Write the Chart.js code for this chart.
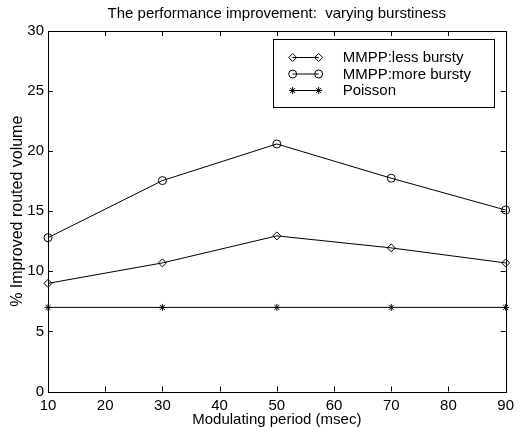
<!DOCTYPE html>
<html>
<head>
<meta charset="utf-8">
<script src="https://cdn.jsdelivr.net/npm/chart.js@4.4.1/dist/chart.umd.min.js"></script>
<style>
    html, body { margin: 0; padding: 0; background: #fff; }
    #wrap { width: 519px; height: 427px; }
</style>
</head>
<body>
<div id="wrap"><canvas id="perfChart"></canvas></div>
<script>
// Chart data
const periods = [10, 30, 50, 70, 90];
const lessBursty = [9.0, 10.7, 12.95, 11.95, 10.7];
const moreBursty = [12.8, 17.55, 20.6, 17.75, 15.1];
const poisson = [7, 7, 7, 7, 7];
const seriesLabels = ['MMPP:less bursty', 'MMPP:more bursty', 'Poisson'];
const markerStyles = ['rectRot', 'circle', 'star'];

const FONT = 'Liberation Sans, Arial, Helvetica, sans-serif';

function toPoints(values) {
    return periods.map((p, i) => ({ x: p, y: values[i] }));
}

// Frame with inward ticks on all four sides (MATLAB look)
const framePlugin = {
    id: 'frame',
    afterDraw(chart) {
        const { ctx, chartArea: a, scales } = chart;
        const len = 5;
        ctx.save();
        ctx.strokeStyle = '#000';
        ctx.lineWidth = 1;
        ctx.beginPath();
        scales.x.ticks.forEach(t => {
            const px = Math.round(scales.x.getPixelForValue(t.value)) + 0.5;
            ctx.moveTo(px, a.bottom); ctx.lineTo(px, a.bottom - len);
            ctx.moveTo(px, a.top); ctx.lineTo(px, a.top + len);
        });
        scales.y.ticks.forEach(t => {
            const py = Math.round(scales.y.getPixelForValue(t.value)) + 0.5;
            ctx.moveTo(a.left, py); ctx.lineTo(a.left + len, py);
            ctx.moveTo(a.right, py); ctx.lineTo(a.right - len, py);
        });
        ctx.stroke();
        ctx.strokeRect(Math.round(a.left) + 0.5, Math.round(a.top) + 0.5,
            Math.round(a.right - a.left), Math.round(a.bottom - a.top));
        ctx.restore();
    }
};

// Legend box drawn inside the plot, upper right
const boxLegendPlugin = {
    id: 'boxLegend',
    afterDraw(chart) {
        const { ctx, chartArea: a } = chart;
        const w = 221, h = 68, rowH = 16.5;
        const x0 = a.right - 12 - w, y0 = a.top + 8;
        ctx.save();
        ctx.fillStyle = '#fff';
        ctx.fillRect(x0, y0, w, h);
        ctx.strokeStyle = '#000';
        ctx.lineWidth = 1;
        ctx.strokeRect(Math.round(x0) + 0.5, Math.round(y0) + 0.5, w, h);
        ctx.font = '15px ' + FONT;
        ctx.textBaseline = 'middle';
        chart.data.datasets.forEach((ds, i) => {
            const y = y0 + 18 + i * rowH;
            const lx1 = x0 + 20, lx2 = x0 + 46;
            ctx.beginPath();
            ctx.moveTo(lx1, y + 0.5);
            ctx.lineTo(lx2, y + 0.5);
            ctx.stroke();
            ctx.fillStyle = 'rgba(0,0,0,0)';
            [lx1, lx2].forEach(px => {
                Chart.helpers.drawPoint(ctx, {
                    pointStyle: ds.pointStyle,
                    radius: ds.pointRadius,
                    borderWidth: 1
                }, px, y + 0.5);
            });
            ctx.fillStyle = '#000';
            ctx.fillText(ds.label, x0 + 70, y + 1);
        });
        ctx.restore();
    }
};

function makeSet(idx, values, radius) {
    return {
        label: seriesLabels[idx],
        data: toPoints(values),
        borderColor: '#000',
        backgroundColor: 'rgba(0,0,0,0)',
        borderWidth: 1,
        pointStyle: markerStyles[idx],
        pointRadius: radius,
        pointBorderColor: '#000',
        pointBackgroundColor: 'rgba(0,0,0,0)',
        pointBorderWidth: 1,
        tension: 0,
        clip: false
    };
}

const ctx = document.getElementById('perfChart').getContext('2d');
new Chart(ctx, {
    type: 'line',
    data: {
        datasets: [
            makeSet(0, lessBursty, 4),
            makeSet(1, moreBursty, 4),
            makeSet(2, poisson, 3.5)
        ]
    },
    options: {
        responsive: true,
        maintainAspectRatio: false,
        animation: false,
        layout: { padding: { top: 0, right: 13, left: 0, bottom: 0 } },
        plugins: {
            legend: { display: false },
            tooltip: { enabled: false }
        },
        scales: {
            x: {
                type: 'linear',
                min: 10,
                max: 90,
                ticks: { stepSize: 10, color: '#000', padding: 5, font: { family: FONT, size: 15 } },
                grid: { display: false, drawTicks: false },
                border: { display: false },
                title: {
                    display: true,
                    text: 'Modulating period (msec)',
                    color: '#000',
                    font: { family: FONT, size: 15, lineHeight: 1.0 },
                    padding: { top: 0, bottom: 0 }
                },
                afterFit(scale) { scale.height = 35.5; }
            },
            // top axis only carries the chart title, centred over the plot
            xTop: {
                type: 'linear',
                position: 'top',
                min: 10,
                max: 90,
                ticks: { display: false },
                grid: { display: false, drawTicks: false },
                border: { display: false },
                title: {
                    display: true,
                    text: 'The performance improvement:  varying burstiness',
                    color: '#000',
                    font: { family: FONT, size: 15, lineHeight: 1.0 },
                    padding: { top: 6, bottom: 0 }
                },
                afterFit(scale) { scale.height = 31; }
            },
            y: {
                type: 'linear',
                min: 0,
                max: 30,
                ticks: { stepSize: 5, color: '#000', padding: 4, font: { family: FONT, size: 15 } },
                grid: { display: false, drawTicks: false },
                border: { display: false },
                title: {
                    display: true,
                    text: '% Improved routed volume',
                    color: '#000',
                    font: { family: FONT, size: 16, lineHeight: 1.0 },
                    padding: { top: 10, bottom: 0 }
                },
                afterFit(scale) { scale.width = 48; }
            }
        }
    },
    plugins: [framePlugin, boxLegendPlugin]
});
</script>
</body>
</html>
